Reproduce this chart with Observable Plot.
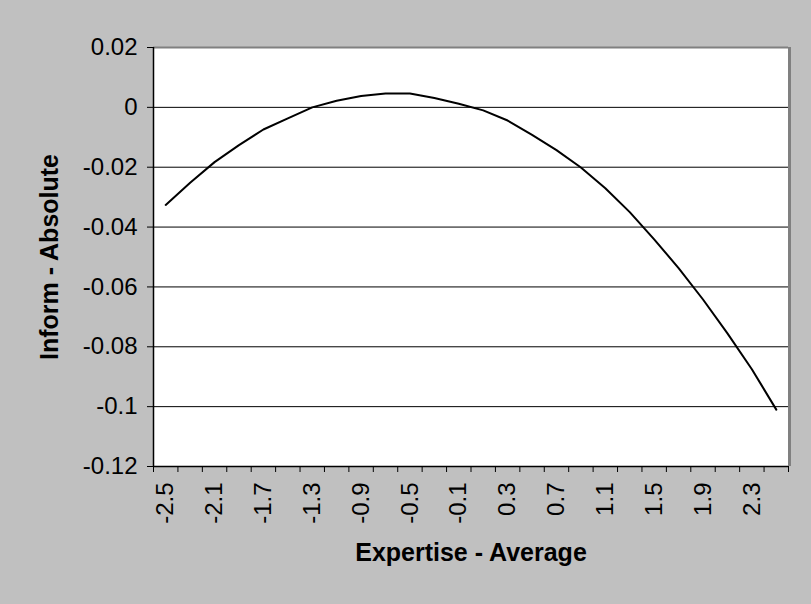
<!DOCTYPE html>
<html>
<head>
<meta charset="utf-8">
<script src="https://cdn.jsdelivr.net/npm/d3@7"></script>
<script src="https://cdn.jsdelivr.net/npm/@observablehq/plot@0.6"></script>
<style>
  html, body { margin: 0; padding: 0; background: #C0C0C0; }
  #chart svg { display: block; }
  #chart svg text { font-family: "Liberation Sans", Arial, sans-serif; }
</style>
</head>
<body>
<div id="chart"></div>
<script>
// Categories (Expertise - Average)
const expertise = [-2.5, -2.3, -2.1, -1.9, -1.7, -1.5, -1.3, -1.1, -0.9, -0.7, -0.5, -0.3, -0.1,
                   0.1, 0.3, 0.5, 0.7, 0.9, 1.1, 1.3, 1.5, 1.7, 1.9, 2.1, 2.3, 2.5];
// Series values (Inform - Absolute)
const inform = [-0.0326, -0.0252, -0.0183, -0.0126, -0.0074, -0.0037, 0.0000, 0.0022, 0.0038, 0.0046, 0.0046, 0.0031, 0.0012,
                -0.0010, -0.0044, -0.0092, -0.0143, -0.0201, -0.0270, -0.0350, -0.0441, -0.0537, -0.0642, -0.0755, -0.0875, -0.1010];
// Tick labels
const xTickLabels = ["-2.5", "-2.1", "-1.7", "-1.3", "-0.9", "-0.5", "-0.1", "0.3", "0.7", "1.1", "1.5", "1.9", "2.3"];
const xBoundaries = [-2.6, -2.4, -2.2, -2.0, -1.8, -1.6, -1.4, -1.2, -1.0, -0.8, -0.6, -0.4, -0.2, 0,
                     0.2, 0.4, 0.6, 0.8, 1.0, 1.2, 1.4, 1.6, 1.8, 2.0, 2.2, 2.4, 2.6];
const yTicks = [0.02, 0, -0.02, -0.04, -0.06, -0.08, -0.1, -0.12];
const xTitle = "Expertise - Average";
const yTitle = "Inform - Absolute";

const data = expertise.map((x, i) => ({x, y: inform[i]}));
const font = "Liberation Sans, Arial, sans-serif";

const chart = Plot.plot({
  width: 811,
  height: 604,
  marginLeft: 153,
  marginRight: 23,
  marginTop: 47,
  marginBottom: 138,
  style: {background: "#C0C0C0", fontFamily: font, fontSize: "24px", color: "#000", overflow: "visible"},
  x: {domain: [-2.6, 2.6], axis: null},
  y: {domain: [-0.12, 0.02], axis: null},
  marks: [
    Plot.frame({fill: "white", stroke: "none"}),
    Plot.gridY(yTicks, {stroke: "#000", strokeOpacity: 1, strokeWidth: 1}),
    Plot.line(data, {x: "x", y: "y", stroke: "#000", strokeWidth: 2}),
    Plot.ruleY([0.02], {stroke: "#808080", strokeWidth: 2}),
    Plot.ruleX([2.6], {stroke: "#808080", strokeWidth: 3, dx: 1}),
    Plot.ruleX([-2.6], {stroke: "#000", strokeWidth: 1.5}),
    Plot.ruleY([-0.12], {stroke: "#000", strokeWidth: 1.5}),
    Plot.axisY({ticks: yTicks, tickSize: 6, tickPadding: 10, tickFormat: d => String(+d.toFixed(2)),
                label: null, fontSize: 24, fontFamily: font, fill: "#000", stroke: "#000"}),
    Plot.axisX({ticks: xBoundaries, tickSize: 6, tickFormat: () => "", label: null, stroke: "#000"}),
    Plot.axisX({ticks: xTickLabels.map(Number), tickSize: 0, tickPadding: 16, tickRotate: -90,
                tickFormat: d => xTickLabels.find(t => +t === d) ?? String(d), label: null,
                fontSize: 24, fontFamily: font, fill: "#000"}),
    Plot.text([xTitle], {text: d => d, frameAnchor: "bottom", dy: 94, lineAnchor: "bottom", textAnchor: "middle",
                         fontWeight: "bold", fontSize: 25, fontFamily: font, fill: "#000"}),
    Plot.text([yTitle], {text: d => d, frameAnchor: "left", dx: -96, rotate: -90, lineAnchor: "bottom", textAnchor: "middle",
                         fontWeight: "bold", fontSize: 25, fontFamily: font, fill: "#000"})
  ]
});
document.getElementById("chart").appendChild(chart);
</script>
</body>
</html>
